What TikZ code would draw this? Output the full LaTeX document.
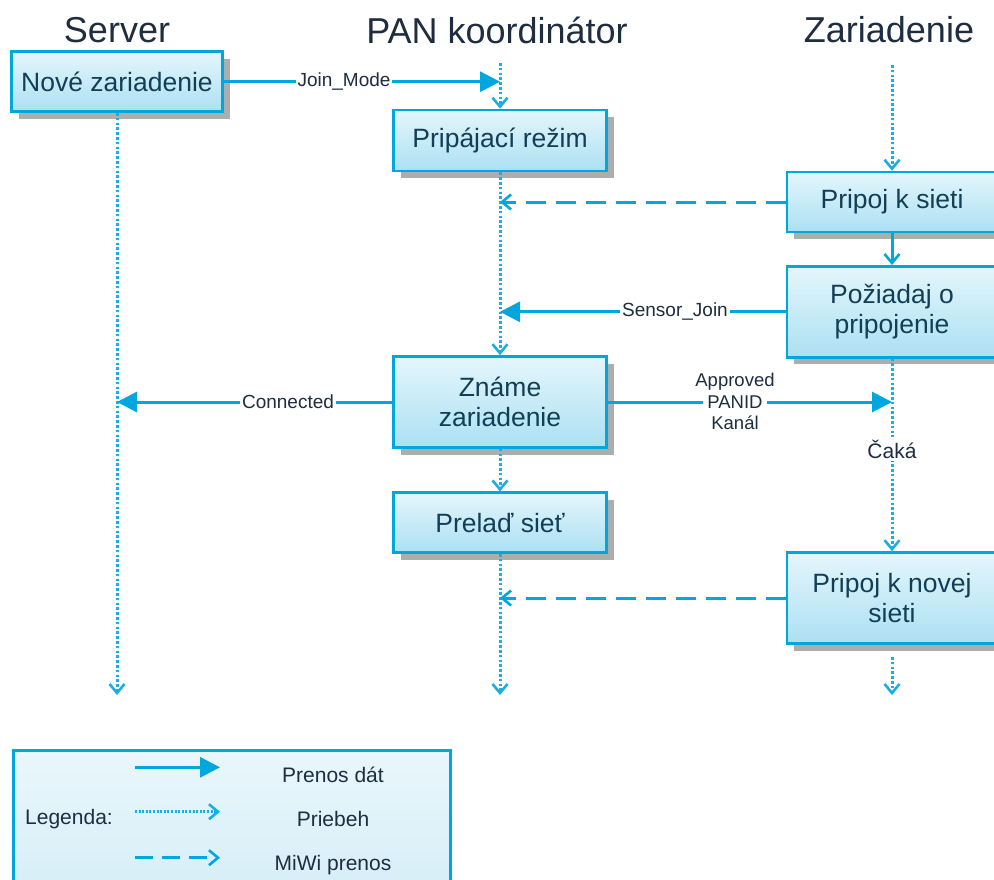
\documentclass[tikz,border=0pt]{standalone}
\usepackage{fontspec}
\setmainfont{Liberation Sans}
\usetikzlibrary{arrows.meta,shadows}

\definecolor{flowblue}{HTML}{00A6DE}
\definecolor{dotblue}{HTML}{1AAEE4}
\definecolor{boxtop}{HTML}{E4F6FC}
\definecolor{boxbot}{HTML}{ACE0F2}
\definecolor{boxtext}{HTML}{123F55}
\definecolor{labeltext}{HTML}{1E2D40}
\definecolor{legtop}{HTML}{EAF7FC}
\definecolor{legbot}{HTML}{D2ECF6}

\tikzset{
  stepbox/.style={draw=flowblue, line width=2.6pt, top color=boxtop, bottom color=boxbot,
    text=boxtext, font=\fontsize{26.5}{30}\selectfont, align=center, inner sep=0pt,
    drop shadow={shadow xshift=7pt, shadow yshift=-7pt, fill=black!32, opacity=1}},
  lanetitle/.style={text=labeltext, font=\fontsize{36}{40}\selectfont, inner sep=0pt},
  lbl/.style={fill=white, text=labeltext, font=\fontsize{19}{22}\selectfont, inner sep=2pt},
  legtext/.style={text=labeltext, font=\fontsize{21}{24}\selectfont, inner sep=0pt},
  datatx/.style={draw=flowblue, line width=3pt, -{Triangle[length=20pt,width=20pt]}},
  flowline/.style={draw=dotblue, line width=3pt, dash pattern=on 2.6pt off 2.2pt,
    -{Straight Barb[length=9pt,width=15pt,line width=2.6pt]}},
  solidflow/.style={draw=flowblue, line width=3pt,
    -{Straight Barb[length=9pt,width=15pt,line width=2.6pt]}},
  miwi/.style={draw=flowblue, line width=3pt, dash pattern=on 20pt off 10pt,
    -{Straight Barb[length=9pt,width=15pt,line width=2.6pt]}},
}

\begin{document}
\begin{tikzpicture}[x=1pt,y=-1pt]
\useasboundingbox[fill=white] (0,0) rectangle (994,879);

% lane titles
\node[lanetitle] (tserver) at (117,30) {Server};
\node[lanetitle] (tpan) at (497,30) {PAN koordinátor};
\node[lanetitle] (tdev) at (889,30) {Zariadenie};

% legend frame
\node[draw=flowblue, line width=2.6pt, top color=legtop, bottom color=legbot,
  minimum width=437pt, minimum height=170pt, anchor=north west, inner sep=0pt]
  (legend) at (12,749) {};

% process boxes
\node[stepbox, minimum width=211pt, minimum height=60pt] (nove) at (117,81.7) {Nové zariadenie};
\node[stepbox, minimum width=213pt, minimum height=61pt] (prip) at (500,140.5) {Pripájací režim};
\node[stepbox, minimum width=210pt, minimum height=60pt] (pks) at (892,202) {Pripoj k sieti};
\node[stepbox, minimum width=210pt, minimum height=91pt] (poz) at (892,311.8) {Požiadaj o\\pripojenie};
\node[stepbox, minimum width=213pt, minimum height=91pt] (zname) at (500,402) {Známe\\zariadenie};
\node[stepbox, minimum width=213pt, minimum height=60pt] (prelad) at (500,522.7) {Prelaď sieť};
\node[stepbox, minimum width=210pt, minimum height=91pt] (novej) at (892,598) {Pripoj k novej\\sieti};

% points on the lifelines
\coordinate (srvEnd) at (117,695);
\coordinate (panTop) at (500,63);
\coordinate (panJoin) at (500,81.7);
\coordinate (panA) at (500,202);
\coordinate (panB) at (500,311.8);
\coordinate (panC) at (500,598);
\coordinate (panEnd) at (500,695);
\coordinate (srvConn) at (117,402);
\coordinate (devTop) at (892,65);
\coordinate (devAppr) at (892,402);
\coordinate (devLow) at (892,657);
\coordinate (devEnd) at (892,695);

% lifelines
\draw[flowline] (nove.south) -- (srvEnd);
\draw[flowline] (panTop) -- (prip.north);
\draw[flowline] (prip.south) -- (zname.north);
\draw[flowline] (zname.south) -- (prelad.north);
\draw[flowline] (prelad.south) -- (panEnd);
\draw[flowline] (devTop) -- (pks.north);
\draw[solidflow] (pks.south) -- (poz.north);
\draw[flowline] (poz.south) -- (novej.north);
\node[lbl, font=\fontsize{21}{24}\selectfont, inner sep=3pt] (caka) at (892,449) {Čaká};
\draw[flowline] (devLow) -- (devEnd);

% messages
\draw[datatx] (nove.east) -- (panJoin);
\node[lbl] (ljoin) at (344,81.7) {Join\_Mode};
\draw[miwi] (pks.west) -- (panA);
\draw[datatx] (poz.west) -- (panB);
\node[lbl] (lsensor) at (675,311.8) {Sensor\_Join};
\draw[datatx] (zname.west) -- (srvConn);
\node[lbl] (lconn) at (288,402) {Connected};
\draw[datatx] (zname.east) -- (devAppr);
\node[lbl, font=\fontsize{18.5}{20.5}\selectfont, inner xsep=4pt, inner ysep=1pt] (lpanid) at (735,402) {PANID};
\node[text=labeltext, font=\fontsize{18.5}{20.5}\selectfont, inner sep=0pt] (lappr) at (735,381.5) {Approved};
\node[text=labeltext, font=\fontsize{18.5}{20.5}\selectfont, inner sep=0pt] (lkanal) at (735,422.5) {Kanál};
\draw[miwi] (novej.west) -- (panC);

% legend contents
\coordinate (lg1a) at (135,767.3);
\coordinate (lg1b) at (220,767.3);
\coordinate (lg2a) at (135,811.7);
\coordinate (lg2b) at (220,811.7);
\coordinate (lg3a) at (135,857.7);
\coordinate (lg3b) at (220,857.7);
\draw[datatx] (lg1a) -- (lg1b);
\draw[flowline, dash pattern=on 2pt off 1.6pt, line width=2.6pt] (lg2a) -- (lg2b);
\draw[miwi, dash pattern=on 18pt off 9pt] (lg3a) -- (lg3b);
\node[legtext] (legcap) at (69,819) {Legenda:};
\node[legtext] (lgt1) at (333,775) {Prenos dát};
\node[legtext] (lgt2) at (333,819) {Priebeh};
\node[legtext] (lgt3) at (333,865) {MiWi prenos};
\end{tikzpicture}
\end{document}
